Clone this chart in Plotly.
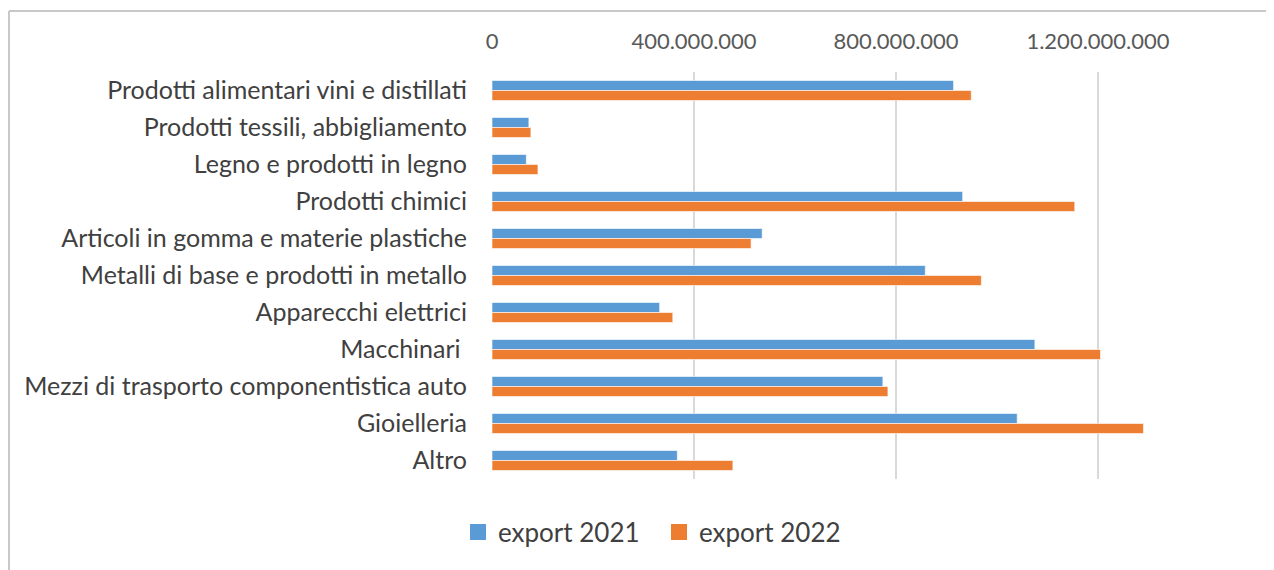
import plotly.graph_objects as go

# categories (top to bottom) and export values in euro
categories = [
    "Prodotti alimentari vini e distillati",
    "Prodotti tessili, abbigliamento",
    "Legno e prodotti in legno",
    "Prodotti chimici",
    "Articoli in gomma e materie plastiche",
    "Metalli di base e prodotti in metallo",
    "Apparecchi elettrici",
    "Macchinari ",
    "Mezzi di trasporto componentistica auto",
    "Gioielleria",
    "Altro",
]
series_names = ["export 2021", "export 2022"]
export_2021 = [914e6, 73e6, 68e6, 932e6, 535e6, 858e6, 332e6, 1075e6, 774e6, 1040e6, 367e6]
export_2022 = [949e6, 77e6, 91e6, 1154e6, 513e6, 969e6, 358e6, 1205e6, 784e6, 1290e6, 477e6]
colors = ["#5B9BD5", "#ED7D31"]

# the page body has an 8px margin, so positions are given relative to the figure
OFF = 8
W, H = 1274, 570
L, R, T, B = 492 - OFF, 0, 72 - OFF, 91 + OFF
PLOT_W = W - L - R
PLOT_H = H - T - B
X_MAX = PLOT_W / 0.505 * 1e6  # 202 px per 400 million, as in the reference


def px_to_paper(px, py):
    # px, py in screenshot pixels
    return (px - OFF - L) / PLOT_W, (H - B - (py - OFF)) / PLOT_H


fig = go.Figure()
for name, vals, col in zip(series_names, [export_2021, export_2022], colors):
    fig.add_trace(go.Bar(
        y=categories, x=vals, orientation="h", name=name, showlegend=False,
        marker=dict(color=col, line=dict(color="#ffffff", width=0.6)),
    ))
# legend entries with larger square swatches
for name, col in zip(series_names, colors):
    fig.add_trace(go.Scatter(
        x=[None], y=[None], mode="markers", name=name,
        marker=dict(symbol="square", size=16, color=col),
    ))

# chart frame (cropped on the right/bottom in the reference)
x0, y0 = px_to_paper(9, 11)
x1, _ = px_to_paper(1290, 11)
_, y1 = px_to_paper(9, 600)
fig.add_shape(type="line", xref="paper", yref="paper", x0=x0, x1=x1, y0=y0, y1=y0,
              line=dict(color="#c8c8c8", width=2))
fig.add_shape(type="line", xref="paper", yref="paper", x0=x0, x1=x0, y0=y0, y1=y1,
              line=dict(color="#c8c8c8", width=2))

leg_x, leg_y = px_to_paper(458, 532)

fig.update_layout(
    width=W, height=H,
    margin=dict(l=L, r=R, t=T, b=B),
    paper_bgcolor="#ffffff",
    plot_bgcolor="#ffffff",
    barmode="group",
    bargap=0.46,
    bargroupgap=0,
    separators=",.",
    font=dict(family="Lato, 'Open Sans', sans-serif", color="#404040"),
    legend=dict(
        orientation="h", x=leg_x, y=leg_y, xanchor="left", yanchor="middle",
        font=dict(size=26, color="#404040"), traceorder="normal",
        itemwidth=30, entrywidth=156, entrywidthmode="pixels",
    ),
    xaxis=dict(
        side="top", range=[0, X_MAX], tick0=0, dtick=400e6, tickformat=",d",
        showgrid=True, gridcolor="#d9d9d9", gridwidth=1.5, zeroline=False,
        showline=False, ticks="", ticklabelstandoff=18,
        tickfont=dict(size=22, color="#595959"),
    ),
    yaxis=dict(
        autorange="reversed", showgrid=False, zeroline=False, showline=False,
        ticks="", ticklabelstandoff=24,
        tickfont=dict(size=25, color="#404040"),
    ),
)

fig.write_html("out.html")
